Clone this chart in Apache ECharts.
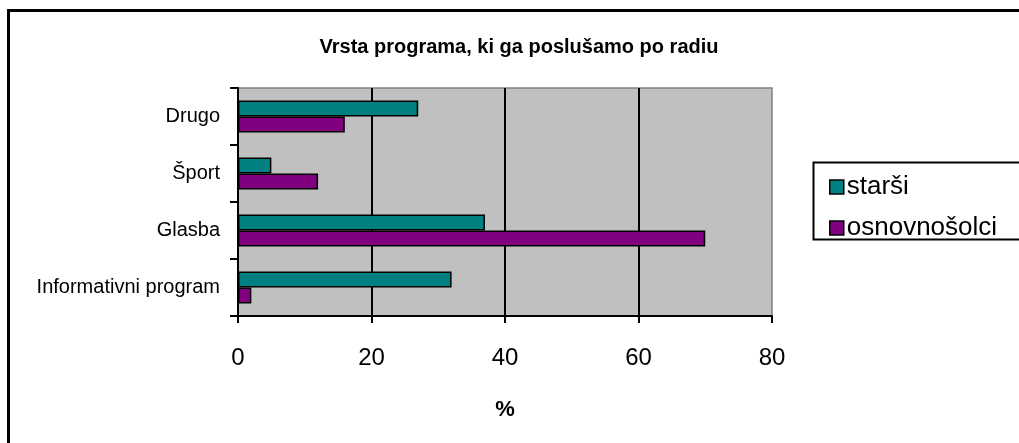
<!DOCTYPE html>
<html>
<head>
<meta charset="utf-8">
<script src="https://cdn.jsdelivr.net/npm/echarts@6/dist/echarts.min.js"></script>
<style>html,body{margin:0;padding:0;background:#fff;}#c{width:1019px;height:443px;}</style>
</head>
<body>
<div id="c"></div>
<script>
const categories = ['Informativni program', 'Glasba', 'Šport', 'Drugo'];
const seriesNames = ['starši', 'osnovnošolci'];
const starsi = [32, 37, 5, 27];
const osnovnosolci = [2, 70, 12, 16];
const xTicks = [0, 20, 40, 60, 80];

const chart = echarts.init(document.getElementById('c'), null, {renderer: 'canvas'});
const font = 'Liberation Sans, Arial, sans-serif';
chart.setOption({
  animation: false,
  backgroundColor: '#fff',
  title: {
    text: 'Vrsta programa, ki ga poslušamo po radiu',
    left: 514, top: 32, textAlign: 'center',
    textStyle: {fontFamily: font, fontSize: 20, fontWeight: 'bold', color: '#000'}
  },
  graphic: [
    {type: 'rect', shape: {x: 8.5, y: 10.5, width: 1100, height: 600}, style: {fill: null, stroke: '#000', lineWidth: 3}, z: 100},
    {type: 'rect', shape: {x: 813.5, y: 162.5, width: 300, height: 77}, style: {fill: '#fff', stroke: '#000', lineWidth: 2}, z: 1}
  ],
  legend: {
    data: seriesNames,
    orient: 'vertical',
    left: 824, top: 169,
    itemWidth: 14, itemHeight: 14, itemGap: 15,
    icon: 'rect',
    itemStyle: {borderColor: '#000', borderWidth: 1.5},
    textStyle: {fontFamily: font, fontSize: 26, color: '#000', padding: [3, 0, 0, -2]},
    z: 5
  },
  grid: {
    left: 238, right: 247, top: 88, bottom: 127,
    show: true, backgroundColor: '#c0c0c0', borderColor: '#808080', borderWidth: 1.5
  },
  xAxis: {
    type: 'value', min: 0, max: 80, interval: 20,
    name: '%', nameLocation: 'middle', nameGap: 83,
    nameTextStyle: {fontFamily: font, fontSize: 22, fontWeight: 'bold', color: '#000'},
    axisLine: {show: true, lineStyle: {color: '#000', width: 2}},
    axisTick: {show: true, length: 7, lineStyle: {color: '#000', width: 2}},
    axisLabel: {fontFamily: font, fontSize: 24, color: '#000', margin: 30,
      formatter: v => xTicks.includes(v) ? String(v) : ''},
    splitLine: {show: true, showMinLine: false, showMaxLine: false, lineStyle: {color: '#000', width: 2}}
  },
  yAxis: {
    type: 'category', data: categories,
    axisLine: {show: true, lineStyle: {color: '#000', width: 2}},
    axisTick: {show: true, length: 8, lineStyle: {color: '#000', width: 2}},
    axisLabel: {fontFamily: font, fontSize: 20, color: '#000', margin: 18, padding: [5, 0, 0, 0]},
    splitLine: {show: false}
  },
  series: [
    {name: seriesNames[0], type: 'bar', data: starsi, barGap: '0%', barCategoryGap: '44%',
      itemStyle: {color: '#008080', borderColor: '#000', borderWidth: 1.5}},
    {name: seriesNames[1], type: 'bar', data: osnovnosolci, barGap: '0%', barCategoryGap: '44%',
      itemStyle: {color: '#800080', borderColor: '#000', borderWidth: 1.5}}
  ]
});
</script>
</body>
</html>
